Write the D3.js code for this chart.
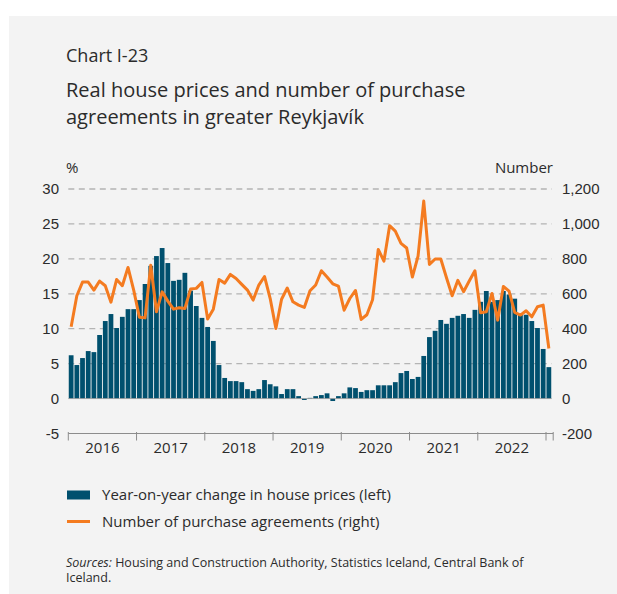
<!DOCTYPE html>
<html>
<head>
<meta charset="utf-8">
<script src="https://cdn.jsdelivr.net/npm/d3@7"></script>
<style>
  html, body { margin: 0; padding: 0; background: #ffffff; }
  svg { display: block; font-family: "Open Sans", "Noto Sans", sans-serif; }
</style>
</head>
<body>
<svg id="chart" width="617" height="594"></svg>
<script>
// Monthly observations, January 2016 to January 2023
const months = d3.timeMonths(new Date(2016, 0, 1), new Date(2023, 1, 1)).map(d3.timeFormat("%Y-%m"));

// Year-on-year change in real house prices, % (left axis)
const priceChange = [
  6.2, 4.8, 5.8, 6.8, 6.65, 9.1, 11.1, 12.1, 10.1, 11.7, 12.8, 12.8,
  14.1, 16.4, 19.0, 20.4, 21.55, 19.4, 16.85, 17.0, 18.0, 15.45, 13.25, 11.55,
  10.25, 8.25, 4.8, 2.95, 2.5, 2.5, 2.35, 1.35, 1.1, 1.35, 2.65, 2.05,
  1.75, 0.65, 1.35, 1.35, 0.35, -0.2, 0.1, 0.35, 0.5, 0.75, -0.35, 0.35,
  0.75, 1.6, 1.5, 0.95, 1.2, 1.2, 1.9, 1.9, 1.9, 2.35, 3.65, 3.95,
  2.8, 3.1, 6.1, 8.8, 9.7, 11.25, 10.7, 11.55, 11.85, 12.1, 11.55, 12.7,
  13.85, 15.4, 13.85, 14.1, 15.4, 14.9, 14.3, 12.1, 12.0, 11.1, 10.1, 7.1,
  4.5
];

// Number of purchase agreements (right axis)
const agreements = [
  411, 589, 667, 667, 621, 673, 646, 552, 682, 646, 751, 621,
  466, 462, 764, 497, 611, 558, 512, 520, 516, 627, 631, 665,
  455, 512, 682, 661, 711, 688, 654, 621, 564, 650, 699, 573,
  401, 569, 633, 554, 535, 522, 617, 650, 732, 696, 657, 644,
  506, 573, 619, 453, 480, 566, 854, 787, 990, 959, 889, 862,
  696, 816, 1131, 768, 799, 799, 692, 589, 677, 612, 673, 732,
  491, 497, 602, 449, 642, 615, 493, 478, 503, 468, 526, 535,
  287
];

const years = ["2016", "2017", "2018", "2019", "2020", "2021", "2022"];
const leftTicks = [-5, 0, 5, 10, 15, 20, 25, 30];
const rightTicks = [-200, 0, 200, 400, 600, 800, 1000, 1200];

const barColor = "#00506e";
const lineColor = "#f47b20";
const textColor = "#2b2b2b";
const gridColor = "#b4b4b4";

const svg = d3.select("#chart");

// panel background
svg.append("rect").attr("x", 9).attr("y", 16).attr("width", 608).attr("height", 578).attr("fill", "#f3f3f3");

const plotLeft = 68.3, plotRight = 551.7, plotTop = 189, plotBottom = 433.5;
const pad = 0.16;

const x = d3.scaleBand().domain(months).range([plotLeft, plotRight]).paddingInner(pad).paddingOuter(pad / 2);
const yL = d3.scaleLinear().domain([-5, 30]).range([plotBottom, plotTop]);
const yR = d3.scaleLinear().domain([-200, 1200]).range([plotBottom, plotTop]);
const boundary = m => x(m) - x.step() * pad / 2;

// titles
svg.append("text").attr("x", 66).attr("y", 62).attr("font-size", 18).attr("fill", textColor).text("Chart I-23");
svg.append("text").attr("x", 66).attr("y", 97).attr("font-size", 20).attr("fill", textColor)
  .text("Real house prices and number of purchase");
svg.append("text").attr("x", 66).attr("y", 124).attr("font-size", 20).attr("fill", textColor)
  .text("agreements in greater Reykjavík");

// axis unit labels
svg.append("text").attr("x", 66).attr("y", 173).attr("font-size", 15).attr("fill", textColor).text("%");
svg.append("text").attr("x", 553).attr("y", 173).attr("font-size", 15).attr("fill", textColor)
  .attr("text-anchor", "end").text("Number");

// dashed gridlines
svg.append("g").selectAll("line").data(leftTicks.filter(d => d > 0)).join("line")
  .attr("x1", plotLeft).attr("x2", plotRight)
  .attr("y1", d => yL(d)).attr("y2", d => yL(d))
  .attr("stroke", gridColor).attr("stroke-width", 1.3).attr("stroke-dasharray", "6,4.5");

// bars
svg.append("g").selectAll("rect").data(months).join("rect")
  .attr("x", m => x(m))
  .attr("width", x.bandwidth())
  .attr("y", (m, i) => yL(Math.max(0, priceChange[i])))
  .attr("height", (m, i) => Math.abs(yL(priceChange[i]) - yL(0)))
  .attr("fill", barColor);

// zero line
svg.append("line").attr("x1", plotLeft).attr("x2", plotRight)
  .attr("y1", yL(0)).attr("y2", yL(0)).attr("stroke", "#9a9a9a").attr("stroke-width", 0.8);

// purchase agreements line
const line = d3.line()
  .x((d, i) => x(months[i]) + x.bandwidth() / 2)
  .y(d => yR(d));
svg.append("path").datum(agreements).attr("d", line)
  .attr("fill", "none").attr("stroke", lineColor).attr("stroke-width", 3).attr("stroke-linejoin", "round");

// left axis labels
const fmtLeft = d => (d < 0 ? "-" : "") + Math.abs(d);
const gL = svg.append("g").attr("transform", "translate(59,0)")
  .call(d3.axisLeft(yL).tickValues(leftTicks).tickSize(0).tickPadding(0).tickFormat(fmtLeft));
gL.select(".domain").remove();
gL.selectAll("text").attr("font-size", 15).attr("fill", textColor).attr("font-family", null);

// right axis labels
const fmtComma = d3.format(",");
const fmtRight = d => (d < 0 ? "-" : "") + fmtComma(Math.abs(d));
const gR = svg.append("g").attr("transform", "translate(562,0)")
  .call(d3.axisRight(yR).tickValues(rightTicks).tickSize(0).tickPadding(0).tickFormat(fmtRight));
gR.select(".domain").remove();
gR.selectAll("text").attr("font-size", 15).attr("fill", textColor).attr("font-family", null);

// x axis with year boundaries
const axisColor = "#8c8c8c";
const gX = svg.append("g");
gX.append("line").attr("x1", plotLeft).attr("x2", plotRight + 1.5)
  .attr("y1", plotBottom).attr("y2", plotBottom).attr("stroke", axisColor).attr("stroke-width", 1);
const tickXs = years.map(y => boundary(y + "-01")).concat([boundary("2023-01"), plotRight + 1.5]);
gX.selectAll("line.tick").data(tickXs).join("line").attr("class", "tick")
  .attr("x1", d => d).attr("x2", d => d)
  .attr("y1", plotBottom - 1.5).attr("y2", plotBottom + 7)
  .attr("stroke", axisColor).attr("stroke-width", 1);
gX.selectAll("text").data(years).join("text")
  .attr("x", y => (boundary(y + "-01") + boundary(y + "-12") + x.step()) / 2)
  .attr("y", 452.5).attr("text-anchor", "middle").attr("font-size", 15).attr("fill", textColor)
  .text(y => y);

// legend
svg.append("rect").attr("x", 67).attr("y", 490.5).attr("width", 23).attr("height", 9).attr("fill", barColor);
svg.append("text").attr("x", 102).attr("y", 500).attr("font-size", 15).attr("fill", textColor)
  .text("Year-on-year change in house prices (left)");
svg.append("line").attr("x1", 67).attr("x2", 90).attr("y1", 521.5).attr("y2", 521.5)
  .attr("stroke", lineColor).attr("stroke-width", 3);
svg.append("text").attr("x", 102).attr("y", 527).attr("font-size", 15).attr("fill", textColor)
  .text("Number of purchase agreements (right)");

// sources
const src = svg.append("text").attr("x", 66).attr("y", 567).attr("font-size", 12.5).attr("fill", textColor);
src.append("tspan").attr("font-style", "italic").text("Sources:");
src.append("tspan").text(" Housing and Construction Authority, Statistics Iceland, Central Bank of");
svg.append("text").attr("x", 66).attr("y", 582).attr("font-size", 12.5).attr("fill", textColor).text("Iceland.");
</script>
</body>
</html>
